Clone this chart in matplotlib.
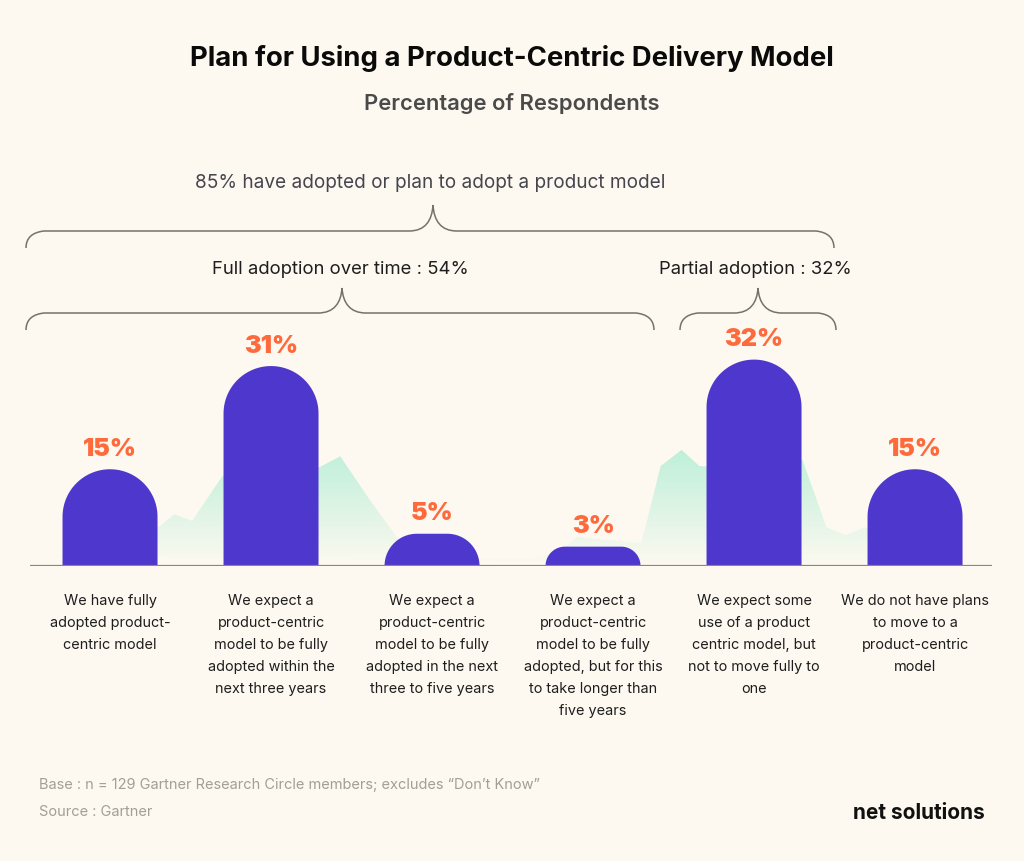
import matplotlib
matplotlib.use("Agg")
import matplotlib.pyplot as plt
import numpy as np
from matplotlib.path import Path
from matplotlib.patches import PathPatch, Polygon
from matplotlib.colors import LinearSegmentedColormap

# ── Data ──────────────────────────────────────────────────────────────────────
values = [15, 31, 5, 3, 32, 15]
labels = [
    "We have fully\nadopted product-\ncentric model",
    "We expect a\nproduct-centric\nmodel to be fully\nadopted within the\nnext three years",
    "We expect a\nproduct-centric\nmodel to be fully\nadopted in the next\nthree to five years",
    "We expect a\nproduct-centric\nmodel to be fully\nadopted, but for this\nto take longer than\nfive years",
    "We expect some\nuse of a product\ncentric model, but\nnot to move fully to\none",
    "We do not have plans\nto move to a\nproduct-centric\nmodel",
]
# decorative mint "mountain" behind the bars (bar-index units, percent units)
bg_x = [-0.34, -0.1, 0.3, 0.4, 0.51, 0.7, 0.95, 1.3, 1.43, 1.62, 1.78, 1.98, 2.2, 2.6,
        2.8, 2.9, 3.3, 3.42, 3.55, 3.66, 3.78, 4.3, 4.45, 4.57, 4.69, 4.86, 5.3]
bg_y = [1.5, 3.0, 6.0, 8.0, 7.0, 14.0, 15.2, 15.3, 17.0, 10.0, 4.5, 2.0, 1.2, 1.0,
        2.5, 4.5, 3.5, 15.5, 18.0, 15.5, 15.3, 16.5, 6.0, 4.8, 6.0, 4.0, 0.0]

C = {
    "bg":     "#FDF9F0",
    "bar":    "#4E37CC",
    "orange": "#FF6A3D",
    "mint":   "#BCEFD9",
    "line":   "#8C867E",
    "text":   "#1E1E1E",
    "muted":  "#45454F",
    "foot":   "#A49E95",
}

W, H = 1024, 861
fig = plt.figure(figsize=(W / 100, H / 100), dpi=100)
fig.patch.set_facecolor(C["bg"])

# ── Bar axes (baseline at y=566px) ────────────────────────────────────────────
base_px, top_px = 566, 300
ax = fig.add_axes([30 / W, (H - base_px) / H, (992 - 30) / W, (base_px - top_px) / H])
ax.set_facecolor("none")
ax.axis("off")

ppx = (992 - 30) / (5.478 + 0.497)        # pixels per x unit
ppy = 6.45                                  # pixels per percent
bar_w = 0.59

# mint background with vertical fade
poly = Polygon(list(zip(bg_x, bg_y)), closed=True, facecolor="none", edgecolor="none")
ax.add_patch(poly)
grad = np.linspace(0, 1, 256).reshape(-1, 1)
cmap = LinearSegmentedColormap.from_list("fade", [C["bg"], C["mint"]])
im = ax.imshow(grad, extent=[-0.5, 5.5, 0, 18.5], origin="lower", aspect="auto",
               cmap=cmap, zorder=1)
im.set_clip_path(poly)
ax.set_xlim(-0.497, 5.478)
ax.set_ylim(0, (base_px - top_px) / ppy)


def rounded_bar(x, h):
    half = bar_w / 2
    r = min(bar_w * ppx / 2, h * ppy)
    rx, ry = r / ppx, r / ppy
    t1 = np.linspace(np.pi, np.pi / 2, 30)
    t2 = np.linspace(np.pi / 2, 0, 30)
    pts = [(x - half, 0)]
    pts += list(zip(x - half + rx + rx * np.cos(t1), h - ry + ry * np.sin(t1)))
    pts += list(zip(x + half - rx + rx * np.cos(t2), h - ry + ry * np.sin(t2)))
    pts += [(x + half, 0)]
    ax.add_patch(Polygon(pts, closed=True, facecolor=C["bar"], edgecolor="none", zorder=3))


for i, v in enumerate(values):
    rounded_bar(i, v)
    ax.text(i, v + 1.3, f"{v}%", ha="center", va="bottom", fontsize=18,
            fontweight="black", color=C["orange"], family="Inter", zorder=4)
    ax.text(i, -4.3, labels[i], ha="center", va="top", fontsize=10.4,
            color=C["text"], linespacing=1.74, family="Inter", zorder=4)

ax.axhline(0, color=C["line"], linewidth=1.6, zorder=5)

# ── Overlay in pixel coords for titles, braces, footer ────────────────────────
ov = fig.add_axes([0, 0, 1, 1])
ov.set_xlim(0, W)
ov.set_ylim(H, 0)
ov.axis("off")
ov.set_facecolor("none")


def brace(x0, x1, xm, y, tip, end=17):
    verts = [
        (x0, y + end), (x0, y + 2), (x0 + 18, y),
        (xm - 24, y), (xm - 8, y), (xm - 1, y - 10), (xm, tip),
        (xm + 1, y - 10), (xm + 8, y), (xm + 24, y),
        (x1 - 18, y), (x1, y + 2), (x1, y + end),
    ]
    codes = [Path.MOVETO, Path.CURVE3, Path.CURVE3,
             Path.LINETO, Path.CURVE4, Path.CURVE4, Path.CURVE4,
             Path.CURVE4, Path.CURVE4, Path.CURVE4,
             Path.LINETO, Path.CURVE3, Path.CURVE3]
    ov.add_patch(PathPatch(Path(verts, codes), facecolor="none",
                           edgecolor="#75716C", linewidth=1.1))


brace(26, 834, 433, 231, 205)
brace(26, 654, 342, 313, 288)
brace(680, 836, 758, 313, 288)

ov.text(512, 58, "Plan for Using a Product-Centric Delivery Model", ha="center",
        va="center", fontsize=19.8, fontweight="bold", color="#0A0A0A", family="Inter")
ov.text(512, 104, "Percentage of Respondents", ha="center", va="center",
        fontsize=15.8, fontweight="semibold", color="#4A4A4A", family="Inter")
ov.text(430, 183, "85% have adopted or plan to adopt a product model", ha="center",
        va="center", fontsize=13.7, color=C["muted"], family="Inter")
ov.text(340, 270, "Full adoption over time : 54%", ha="center", va="center",
        fontsize=13.3, color=C["text"], family="Inter")
ov.text(755, 270, "Partial adoption : 32%", ha="center", va="center",
        fontsize=13.3, color=C["text"], family="Inter")

ov.text(39, 785, "Base : n = 129 Gartner Research Circle members; excludes \u201cDon\u2019t Know\u201d",
        ha="left", va="center", fontsize=10.5, color=C["foot"], family="Inter")
ov.text(39, 812, "Source : Gartner", ha="left", va="center", fontsize=10.5,
        color=C["foot"], family="Inter")
ov.text(985, 813, "net solutions", ha="right", va="center", fontsize=15,
        fontweight="bold", color="#111111", family="Inter")

fig.savefig("out.png", dpi=100, facecolor=C["bg"])
